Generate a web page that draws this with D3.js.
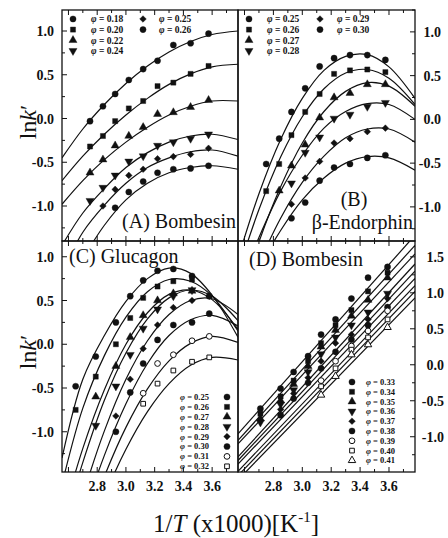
<!DOCTYPE html>
<html>
<head>
<meta charset="utf-8">
<script src="https://cdn.jsdelivr.net/npm/d3@7"></script>
<style>
  html, body { margin: 0; padding: 0; background: #fff; }
  svg { display: block; }
  text { font-family: "Liberation Serif", "Times New Roman", serif; fill: #111; }
</style>
</head>
<body>
<svg id="chart" width="448" height="538"></svg>
<script>
// ---------- shared axis values ----------
const xDomain = [2.555, 3.78];
const xTickLabels = [2.8, 3.0, 3.2, 3.4, 3.6];
const yTickLabelsAB = [-1.0, -0.5, 0.0, 0.5, 1.0];
const yTickLabelsC = [-1.0, -0.5, 0.0, 0.5, 1.0];
const yTickLabelsD = [-1.0, -0.5, 0.0, 0.5, 1.0, 1.5];

// grid of 1/T values at which the fitted curves are sampled
const fitGrid = [2.555, 2.7, 2.85, 3.0, 3.15, 3.3, 3.45, 3.6, 3.78];

// ---------- (A) Bombesin ----------
const phiA = ["0.18", "0.20", "0.22", "0.24", "0.25", "0.26"];
const markA = ["circle", "square", "triangle", "triangleDown", "diamond", "circle"];
const invTA = [2.75, 2.84, 2.925, 3.02, 3.12, 3.22, 3.33, 3.45, 3.575];
const lnkA = [
  [-0.03, 0.14, 0.28, 0.44, 0.565, 0.66, 0.84, 0.86, 0.97],
  [-0.32, -0.20, -0.03, 0.115, 0.20, 0.37, 0.41, 0.51, 0.60],
  [-0.62, -0.47, -0.31, -0.20, -0.10, 0.05, 0.07, 0.13, 0.21],
  [-0.94, -0.79, -0.65, -0.49, -0.43, -0.31, -0.27, -0.23, -0.18],
  [null, -1.00, -0.81, -0.65, -0.58, -0.46, -0.435, -0.41, -0.34],
  [null, null, -1.02, -0.84, -0.72, -0.62, -0.58, -0.57, -0.54]
];
const fitA = [
  [-0.45, -0.12, 0.16, 0.40, 0.60, 0.76, 0.88, 0.96, 1.00],
  [-0.71, -0.43, -0.18, 0.04, 0.23, 0.39, 0.51, 0.59, 0.62],
  [-0.98, -0.71, -0.47, -0.27, -0.10, 0.04, 0.14, 0.20, 0.20],
  [-1.45, -1.08, -0.80, -0.56, -0.39, -0.27, -0.20, -0.18, -0.24],
  [-1.75, -1.30, -0.99, -0.74, -0.56, -0.45, -0.38, -0.36, -0.43],
  [-2.00, -1.60, -1.22, -0.93, -0.74, -0.62, -0.56, -0.54, -0.58]
];

// ---------- (B) beta-Endorphin ----------
const phiB = ["0.25", "0.26", "0.27", "0.28", "0.29", "0.30"];
const markB = ["circle", "square", "triangle", "triangleDown", "diamond", "circle"];
const invTB = [2.75, 2.84, 2.925, 3.02, 3.12, 3.22, 3.33, 3.45, 3.575];
const lnkB = [
  [-0.51, -0.22, 0.085, 0.355, 0.605, 0.70, 0.735, 0.735, 0.68],
  [-0.82, -0.51, -0.18, 0.085, 0.29, 0.52, 0.56, 0.57, 0.54],
  [null, -0.815, -0.53, -0.29, 0.02, 0.25, 0.30, 0.40, 0.40],
  [null, null, -0.73, -0.38, -0.205, 0.01, 0.055, 0.145, 0.19],
  [null, null, -0.97, -0.67, -0.48, -0.27, -0.22, -0.14, -0.10],
  [null, null, -1.13, -0.95, -0.70, -0.55, -0.51, -0.44, -0.41]
];
const fitB = [
  [-1.59, -0.85, -0.23, 0.24, 0.56, 0.72, 0.74, 0.60, 0.24],
  [-1.74, -1.03, -0.43, 0.03, 0.35, 0.53, 0.57, 0.47, 0.17],
  [-2.15, -1.40, -0.77, -0.27, 0.09, 0.32, 0.42, 0.38, 0.15],
  [-1.95, -1.35, -0.82, -0.41, -0.10, 0.09, 0.18, 0.17, 0.00],
  [-2.24, -1.65, -1.13, -0.72, -0.42, -0.21, -0.11, -0.11, -0.26],
  [-2.21, -1.70, -1.27, -0.92, -0.67, -0.50, -0.425, -0.44, -0.58]
];

// ---------- (C) Glucagon ----------
const phiC = ["0.25", "0.26", "0.27", "0.28", "0.29", "0.30", "0.31", "0.32"];
const markC = ["circle", "square", "triangle", "triangleDown", "diamond", "circle", "openCircle", "openSquare"];
const invTC = [2.65, 2.79, 2.93, 3.03, 3.12, 3.22, 3.33, 3.46, 3.58];
const lnkC = [
  [-0.48, -0.14, 0.25, 0.55, 0.73, 0.84, 0.86, 0.78, 0.55],
  [-0.75, -0.37, 0.00, 0.30, 0.53, 0.66, 0.72, 0.74, null],
  [null, -0.60, -0.25, 0.08, 0.33, 0.50, 0.58, 0.61, null],
  [null, -0.93, -0.48, -0.12, 0.18, 0.40, 0.55, 0.62, null],
  [null, null, -0.82, -0.40, -0.05, 0.22, 0.42, 0.50, 0.55],
  [null, null, -1.00, -0.55, -0.22, 0.05, 0.22, 0.25, 0.35],
  [null, null, null, null, -0.56, -0.22, -0.12, 0.04, 0.09],
  [null, null, null, null, -0.68, -0.45, -0.30, -0.20, -0.15]
];
const fitC = [
  [-1.30, -0.40, 0.10, 0.49, 0.75, 0.87, 0.81, 0.56, 0.08],
  [-1.60, -0.73, -0.13, 0.31, 0.60, 0.74, 0.72, 0.55, 0.15],
  [-2.00, -1.19, -0.52, 0.00, 0.36, 0.57, 0.62, 0.51, 0.17],
  [-2.16, -1.35, -0.64, -0.10, 0.29, 0.53, 0.62, 0.55, 0.27],
  [-2.57, -1.73, -0.99, -0.40, 0.04, 0.34, 0.50, 0.52, 0.34],
  [-2.82, -1.99, -1.27, -0.68, -0.22, 0.10, 0.28, 0.33, 0.21],
  [-2.97, -2.19, -1.51, -0.95, -0.51, -0.19, 0.01, 0.09, 0.02],
  [-3.14, -2.40, -1.74, -1.20, -0.77, -0.45, -0.24, -0.15, -0.18]
];

// ---------- (D) Bombesin, linear region ----------
const phiD = ["0.33", "0.34", "0.35", "0.36", "0.37", "0.38", "0.39", "0.40", "0.41"];
const markD = ["circle", "square", "triangle", "triangleDown", "diamond", "circle", "openCircle", "openSquare", "openTriangle"];
const invTD = [2.71, 2.85, 2.94, 3.04, 3.13, 3.23, 3.34, 3.455, 3.59];
const lnkD = [
  [-0.61, -0.33, -0.10, 0.12, 0.42, 0.63, 0.92, 1.21, 1.36],
  [-0.68, -0.44, -0.22, 0.05, 0.30, 0.55, 0.76, 1.02, 1.28],
  [-0.75, -0.50, -0.27, -0.02, 0.25, 0.48, 0.68, 0.90, 1.21],
  [-0.80, -0.55, -0.35, -0.10, 0.15, 0.38, 0.55, 0.73, 0.99],
  [null, -0.62, -0.40, -0.18, 0.05, 0.30, 0.42, 0.63, 0.92],
  [null, -0.70, -0.47, -0.25, -0.05, 0.18, 0.35, 0.55, 0.80],
  [null, null, null, null, -0.22, 0.05, 0.26, 0.47, 0.75],
  [null, null, null, null, -0.30, -0.05, 0.21, 0.38, 0.63],
  [null, null, null, null, -0.42, -0.16, 0.14, 0.28, 0.52]
];
// straight-line fits: lnk' at the left and right ends of the 1/T range
const fitEndsD = [2.555, 3.78];
const fitD = [
  [-0.96, 1.80],
  [-1.05, 1.66],
  [-1.10, 1.54],
  [-1.28, 1.40],
  [-1.33, 1.30],
  [-1.38, 1.20],
  [-1.48, 1.10],
  [-1.54, 1.02],
  [-1.60, 0.93]
];

// ---------- drawing ----------
const svg = d3.select("#chart");

const panels = [
  { key: "A", left: 62, right: 238, top: 10, bottom: 241, yDomain: [-1.40, 1.24], side: "left", labelX: 54,
    ticks: yTickLabelsAB, cols: invTA, vals: lnkA, marks: markA, fitX: fitGrid, fit: fitA, smooth: true },
  { key: "B", left: 238, right: 415, top: 10, bottom: 241, yDomain: [-1.39, 1.25], side: "right", labelX: 441,
    ticks: yTickLabelsAB, cols: invTB, vals: lnkB, marks: markB, fitX: fitGrid, fit: fitB, smooth: true },
  { key: "C", left: 62, right: 238, top: 241, bottom: 472, yDomain: [-1.46, 1.18], side: "left", labelX: 54,
    ticks: yTickLabelsC, cols: invTC, vals: lnkC, marks: markC, fitX: fitGrid, fit: fitC, smooth: true },
  { key: "D", left: 238, right: 415, top: 241, bottom: 472, yDomain: [-1.49, 1.72], side: "right", labelX: 444,
    ticks: yTickLabelsD, cols: invTD, vals: lnkD, marks: markD, fitX: fitEndsD, fit: fitD, smooth: false }
];

function drawMarker(g, type, cx, cy) {
  const open = type.startsWith("open");
  const base = open ? type.slice(4).toLowerCase() : type;
  let sym, size, rot = 0;
  if (base === "circle") { sym = d3.symbolCircle; size = open ? 26 : 30; }
  else if (base === "square") { sym = d3.symbolSquare; size = open ? 22 : 26; }
  else if (base === "triangle") { sym = d3.symbolTriangle; size = open ? 24 : 28; }
  else if (base === "triangleDown") { sym = d3.symbolTriangle; size = 28; rot = 180; }
  else if (base === "diamond") { sym = d3.symbolSquare; size = 22; rot = 45; }
  g.append("path")
    .attr("d", d3.symbol().type(sym).size(size)())
    .attr("transform", `translate(${cx},${cy}) rotate(${rot})`)
    .attr("fill", open ? "#fff" : "#111")
    .attr("stroke", "#111")
    .attr("stroke-width", open ? 1 : 0.4);
}

panels.forEach(p => {
  const x = d3.scaleLinear().domain(xDomain).range([p.left, p.right]);
  const y = d3.scaleLinear().domain(p.yDomain).range([p.bottom, p.top]);
  const g = svg.append("g");

  const clipId = "clip" + p.key;
  svg.append("clipPath").attr("id", clipId)
    .append("rect").attr("x", p.left).attr("y", p.top)
    .attr("width", p.right - p.left).attr("height", p.bottom - p.top);

  const plot = g.append("g").attr("clip-path", `url(#${clipId})`);

  // fitted curves
  const line = d3.line().x(d => x(d[0])).y(d => y(d[1]))
    .curve(p.smooth ? d3.curveCatmullRom.alpha(0.5) : d3.curveLinear);
  p.fit.forEach(f => {
    plot.append("path")
      .datum(p.fitX.map((xv, i) => [xv, f[i]]))
      .attr("d", line)
      .attr("fill", "none")
      .attr("stroke", "#111")
      .attr("stroke-width", 1.2);
  });

  // data points
  p.vals.forEach((row, si) => {
    row.forEach((v, ci) => {
      if (v === null) return;
      drawMarker(plot, p.marks[si], x(p.cols[ci]), y(v));
    });
  });

  // frame
  g.append("rect")
    .attr("x", p.left).attr("y", p.top)
    .attr("width", p.right - p.left).attr("height", p.bottom - p.top)
    .attr("fill", "none").attr("stroke", "#111").attr("stroke-width", 1.3);

  // x ticks (inward, bottom and top)
  const xt = d3.range(26, 38).map(d => d / 10);
  xt.forEach(v => {
    const major = Math.round(v * 10) % 2 === 0;
    const len = major ? 5 : 3;
    g.append("line").attr("x1", x(v)).attr("x2", x(v))
      .attr("y1", p.bottom).attr("y2", p.bottom - len)
      .attr("stroke", "#111").attr("stroke-width", 1);
    g.append("line").attr("x1", x(v)).attr("x2", x(v))
      .attr("y1", p.top).attr("y2", p.top + len)
      .attr("stroke", "#111").attr("stroke-width", 1);
  });

  // y ticks (inward) with labels on the outer side
  const axisX = p.side === "left" ? p.left : p.right;
  const dir = p.side === "left" ? 1 : -1;
  const yMinor = d3.range(Math.ceil(p.yDomain[0] * 4), Math.floor(p.yDomain[1] * 4) + 1).map(d => d / 4);
  yMinor.forEach(v => {
    const major = Math.abs(v * 2 - Math.round(v * 2)) < 1e-6;
    const len = major ? 5 : 3;
    g.append("line").attr("x1", axisX).attr("x2", axisX + dir * len)
      .attr("y1", y(v)).attr("y2", y(v))
      .attr("stroke", "#111").attr("stroke-width", 1);
  });
  p.ticks.forEach(v => {
    g.append("text")
      .attr("x", p.labelX)
      .attr("y", y(v) + 5)
      .attr("text-anchor", "end")
      .attr("font-size", 14).attr("font-weight", "bold")
      .text(v.toFixed(1));
  });

  // x tick labels on the lower panels
  if (p.bottom > 400) {
    xTickLabels.forEach(v => {
      g.append("text")
        .attr("x", x(v)).attr("y", p.bottom + 19)
        .attr("text-anchor", "middle")
        .attr("font-size", 14).attr("font-weight", "bold")
        .text(v.toFixed(1));
    });
  }
});

// ---------- panel titles ----------
const titles = [
  { t: "(A) Bombesin", x: 236, y: 228, anchor: "end" },
  { t: "(B)", x: 354, y: 206, anchor: "middle" },
  { t: "\u03B2-Endorphin", x: 413, y: 229, anchor: "end" },
  { t: "(C) Glucagon", x: 69, y: 263, anchor: "start" },
  { t: "(D) Bombesin", x: 249, y: 266, anchor: "start" }
];
titles.forEach(d => {
  svg.append("text").attr("x", d.x).attr("y", d.y)
    .attr("text-anchor", d.anchor).attr("font-size", 20).text(d.t);
});

// ---------- legends ----------
function legendEntry(mark, phi, sx, tx, cy, fs, anchor) {
  const g = svg.append("g");
  drawMarker(g, mark, sx, cy);
  const t = g.append("text").attr("x", tx).attr("y", cy + fs * 0.35)
    .attr("text-anchor", anchor || "start")
    .attr("font-size", fs).attr("font-weight", "bold");
  t.append("tspan").attr("font-style", "italic").text("\u03C6");
  t.append("tspan").text(" = " + phi);
}
// (A)
[0, 1, 2, 3].forEach(i => legendEntry(markA[i], phiA[i], 73, 91, 19 + i * 10.6, 9.5));
[4, 5].forEach((s, i) => legendEntry(markA[s], phiA[s], 143, 159, 19 + i * 10.6, 9.5));
// (B)
[0, 1, 2, 3].forEach(i => legendEntry(markB[i], phiB[i], 249, 267, 19 + i * 10.6, 9.5));
[4, 5].forEach((s, i) => legendEntry(markB[s], phiB[s], 320, 337, 19 + i * 10.6, 9.5));
// (C)
phiC.forEach((phi, i) => legendEntry(markC[i], phi, 227, 209, 397 + i * 9.9, 8.5, "end"));
// (D)
phiD.forEach((phi, i) => legendEntry(markD[i], phi, 352, 366, 382 + i * 9.8, 8.5));

// ---------- axis titles ----------
function lnkLabel(cx, cy) {
  const t = svg.append("text")
    .attr("transform", `translate(${cx},${cy}) rotate(-90)`)
    .attr("text-anchor", "middle").attr("font-size", 24);
  t.append("tspan").text("ln");
  t.append("tspan").attr("font-style", "italic").text("k");
  t.append("tspan").text("\u2032");
}
lnkLabel(36, 122);
lnkLabel(36, 352);

const xt = svg.append("text").attr("x", 236).attr("y", 532)
  .attr("text-anchor", "middle").attr("font-size", 25);
xt.append("tspan").text("1/");
xt.append("tspan").attr("font-style", "italic").text("T");
xt.append("tspan").text(" (x1000)[K");
xt.append("tspan").attr("font-size", 15).attr("dy", -10).text("-1");
xt.append("tspan").attr("dy", 10).text("]");
</script>
</body>
</html>
